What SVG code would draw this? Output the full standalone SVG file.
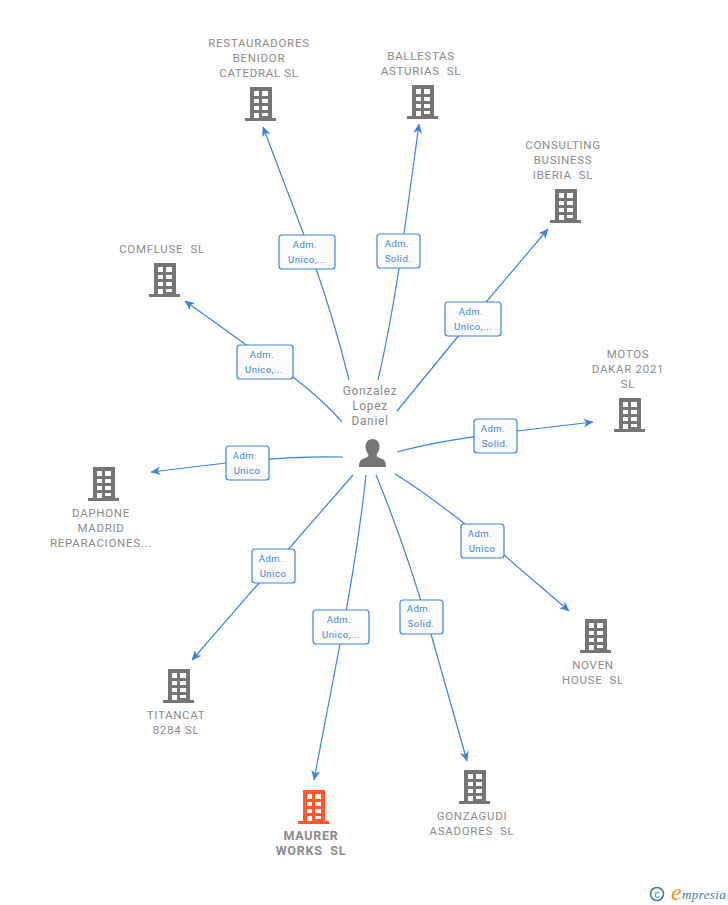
<svg xmlns="http://www.w3.org/2000/svg" width="728" height="905" viewBox="0 0 728 905">
<style>
.t{font-family:Roboto,"Liberation Sans",sans-serif;font-size:11.5px;fill:#8a8a8a;text-anchor:middle;letter-spacing:.7px;white-space:pre}
.p{font-size:12px;letter-spacing:.65px}
.b{font-weight:700;font-size:12.500px;letter-spacing:.75px}
.e{fill:none;stroke:#3b82e0;stroke-width:1.2}
.lb{fill:url(#g);stroke:#3b82e0;stroke-width:1.2}
.lt{font-family:Roboto,"Liberation Sans",sans-serif;font-size:9.5px;fill:#3b82e0;text-anchor:middle;letter-spacing:.5px}
</style>
<defs>
<linearGradient id="g" x1="0" y1="0" x2="0" y2="1"><stop offset="0" stop-color="#fff"/><stop offset="1" stop-color="#f8f8f8"/></linearGradient>
<marker id="a" viewBox="0 0 10 10" refX="9.500" refY="5" markerWidth="10" markerHeight="10" markerUnits="userSpaceOnUse" orient="auto"><path d="M0 0.500L10 5L0 9.500L3 5Z" fill="#3b82e0"/></marker>
<path id="bld" fill-rule="evenodd" d="M5 0H27V31H31V34H0V31H5ZM9 4V9H14V4ZM17 4V9H23V4ZM9 12V16H14V12ZM17 12V16H23V12ZM9 19V23H14V19ZM17 19V23H23V19ZM9 26V31H14V26ZM17 26V29H23V26Z"/>
</defs>
<rect width="728" height="905" fill="#fff"/>
<g id="connectors">
<path class="e" marker-end="url(#a)" d="M349 380Q332 310 304 235L263 127"/>
<path class="e" marker-end="url(#a)" d="M378 380Q392 320 404 234L419 124"/>
<path class="e" marker-end="url(#a)" d="M397 411L487 301L548 229"/>
<path class="e" marker-end="url(#a)" d="M397 452Q440 440 517 431L593 422"/>
<path class="e" marker-end="url(#a)" d="M395 474Q430 495 504 555L569 611"/>
<path class="e" marker-end="url(#a)" d="M376 475Q405 545 431 634L467 761"/>
<path class="e" marker-end="url(#a)" d="M366 475Q358 550 340 644L314 780"/>
<path class="e" marker-end="url(#a)" d="M353 475L259 583L192 660"/>
<path class="e" marker-end="url(#a)" d="M343 457Q290 456 226 463L151 472"/>
<path class="e" marker-end="url(#a)" d="M342 422Q310 385 245 344L185 301"/>
<rect class="lb" x="279" y="235" width="56" height="34" rx="3"/><text class="lt" x="305" y="248">Adm.</text><text class="lt" x="307" y="263">Unico,...</text>
<rect class="lb" x="377" y="234" width="43" height="34" rx="3"/><text class="lt" x="397" y="247">Adm.</text><text class="lt" x="398" y="262">Solid.</text>
<rect class="lb" x="445" y="302" width="56" height="34" rx="3"/><text class="lt" x="471" y="315">Adm.</text><text class="lt" x="473" y="330">Unico,...</text>
<rect class="lb" x="474" y="419" width="43" height="34" rx="3"/><text class="lt" x="493" y="432">Adm.</text><text class="lt" x="495" y="447">Solid.</text>
<rect class="lb" x="461" y="524" width="43" height="34" rx="3"/><text class="lt" x="480" y="537">Adm.</text><text class="lt" x="482" y="552">Unico</text>
<rect class="lb" x="400" y="600" width="43" height="34" rx="3"/><text class="lt" x="419" y="612">Adm.</text><text class="lt" x="421" y="627">Solid.</text>
<rect class="lb" x="313" y="610" width="56" height="34" rx="3"/><text class="lt" x="339" y="623">Adm.</text><text class="lt" x="341" y="638">Unico,...</text>
<rect class="lb" x="252" y="549" width="43" height="34" rx="3"/><text class="lt" x="271" y="562">Adm.</text><text class="lt" x="273" y="577">Unico</text>
<rect class="lb" x="226" y="446" width="43" height="34" rx="3"/><text class="lt" x="245" y="459">Adm.</text><text class="lt" x="247" y="474">Unico</text>
<rect class="lb" x="237" y="345" width="56" height="34" rx="3"/><text class="lt" x="262" y="358">Adm.</text><text class="lt" x="264" y="373">Unico,...</text>
</g>
<g id="person">
<text class="t p" x="370" y="395">Gonzalez</text><text class="t p" x="370" y="410">Lopez</text><text class="t p" x="370" y="425">Daniel</text>
<path fill="#757575" d="M372.500 439C367.500 439 365.500 443 365.500 447C365.500 450 367 453 368.500 454.500C368.500 456.500 367 457.500 364 458.500C360.500 459.500 359 461.500 359 467H386C386 461.500 384.500 459.500 381 458.500C378 457.500 376.500 456.500 376.500 454.500C378 453 379.500 450 379.500 447C379.500 443 377.500 439 372.500 439Z"/>
</g>
<g id="n1"><text class="t" x="259" y="47">RESTAURADORES</text><text class="t" x="259" y="62">BENIDOR</text><text class="t" x="259" y="77">CATEDRAL SL</text><use href="#bld" x="245" y="87" fill="#757575"/></g>
<g id="n2"><text class="t" x="421" y="60">BALLESTAS</text><text class="t" x="421" y="75">ASTURIAS  SL</text><use href="#bld" x="407" y="85" fill="#757575"/></g>
<g id="n3"><text class="t" x="563" y="149">CONSULTING</text><text class="t" x="563" y="164">BUSINESS</text><text class="t" x="563" y="179">IBERIA  SL</text><use href="#bld" x="550" y="189" fill="#757575"/></g>
<g id="n4"><text class="t" x="162" y="253">COMFLUSE  SL</text><use href="#bld" x="149" y="263" fill="#757575"/></g>
<g id="n5"><text class="t" x="628" y="358">MOTOS</text><text class="t" x="628" y="373">DAKAR 2021</text><text class="t" x="628" y="388">SL</text><use href="#bld" x="614" y="398" fill="#757575"/></g>
<g id="n6"><use href="#bld" x="88" y="467" fill="#757575"/><text class="t" x="101" y="517">DAPHONE</text><text class="t" x="101" y="532">MADRID</text><text class="t" x="101" y="547">REPARACIONES...</text></g>
<g id="n7"><use href="#bld" x="580" y="619" fill="#757575"/><text class="t" x="593" y="669">NOVEN</text><text class="t" x="593" y="684">HOUSE  SL</text></g>
<g id="n8"><use href="#bld" x="163" y="669" fill="#757575"/><text class="t" x="176" y="719">TITANCAT</text><text class="t" x="176" y="734">8284 SL</text></g>
<g id="n9"><use href="#bld" x="459" y="770" fill="#757575"/><text class="t" x="472" y="820">GONZAGUDI</text><text class="t" x="472" y="835">ASADORES  SL</text></g>
<g id="n10"><use href="#bld" x="298" y="790" fill="#ff5a2a"/><text class="t b" x="311" y="840">MAURER</text><text class="t b" x="311" y="855">WORKS  SL</text></g>
<g id="logo">
<circle cx="657" cy="894" r="6.500" fill="none" stroke="#3c7d99" stroke-width="1.600"/>
<text x="657" y="897.500" font-family="'Liberation Sans',sans-serif" font-size="10" fill="#3c7d99" text-anchor="middle">c</text>
<text x="671" y="900" font-family="'Liberation Serif',serif" font-style="italic" font-size="24" fill="#f08c1e">e</text>
<text x="682" y="899" font-family="'Liberation Serif',serif" font-style="italic" font-size="13" fill="#3c7d99" letter-spacing=".4">mpresia</text>
</g>
</svg>
